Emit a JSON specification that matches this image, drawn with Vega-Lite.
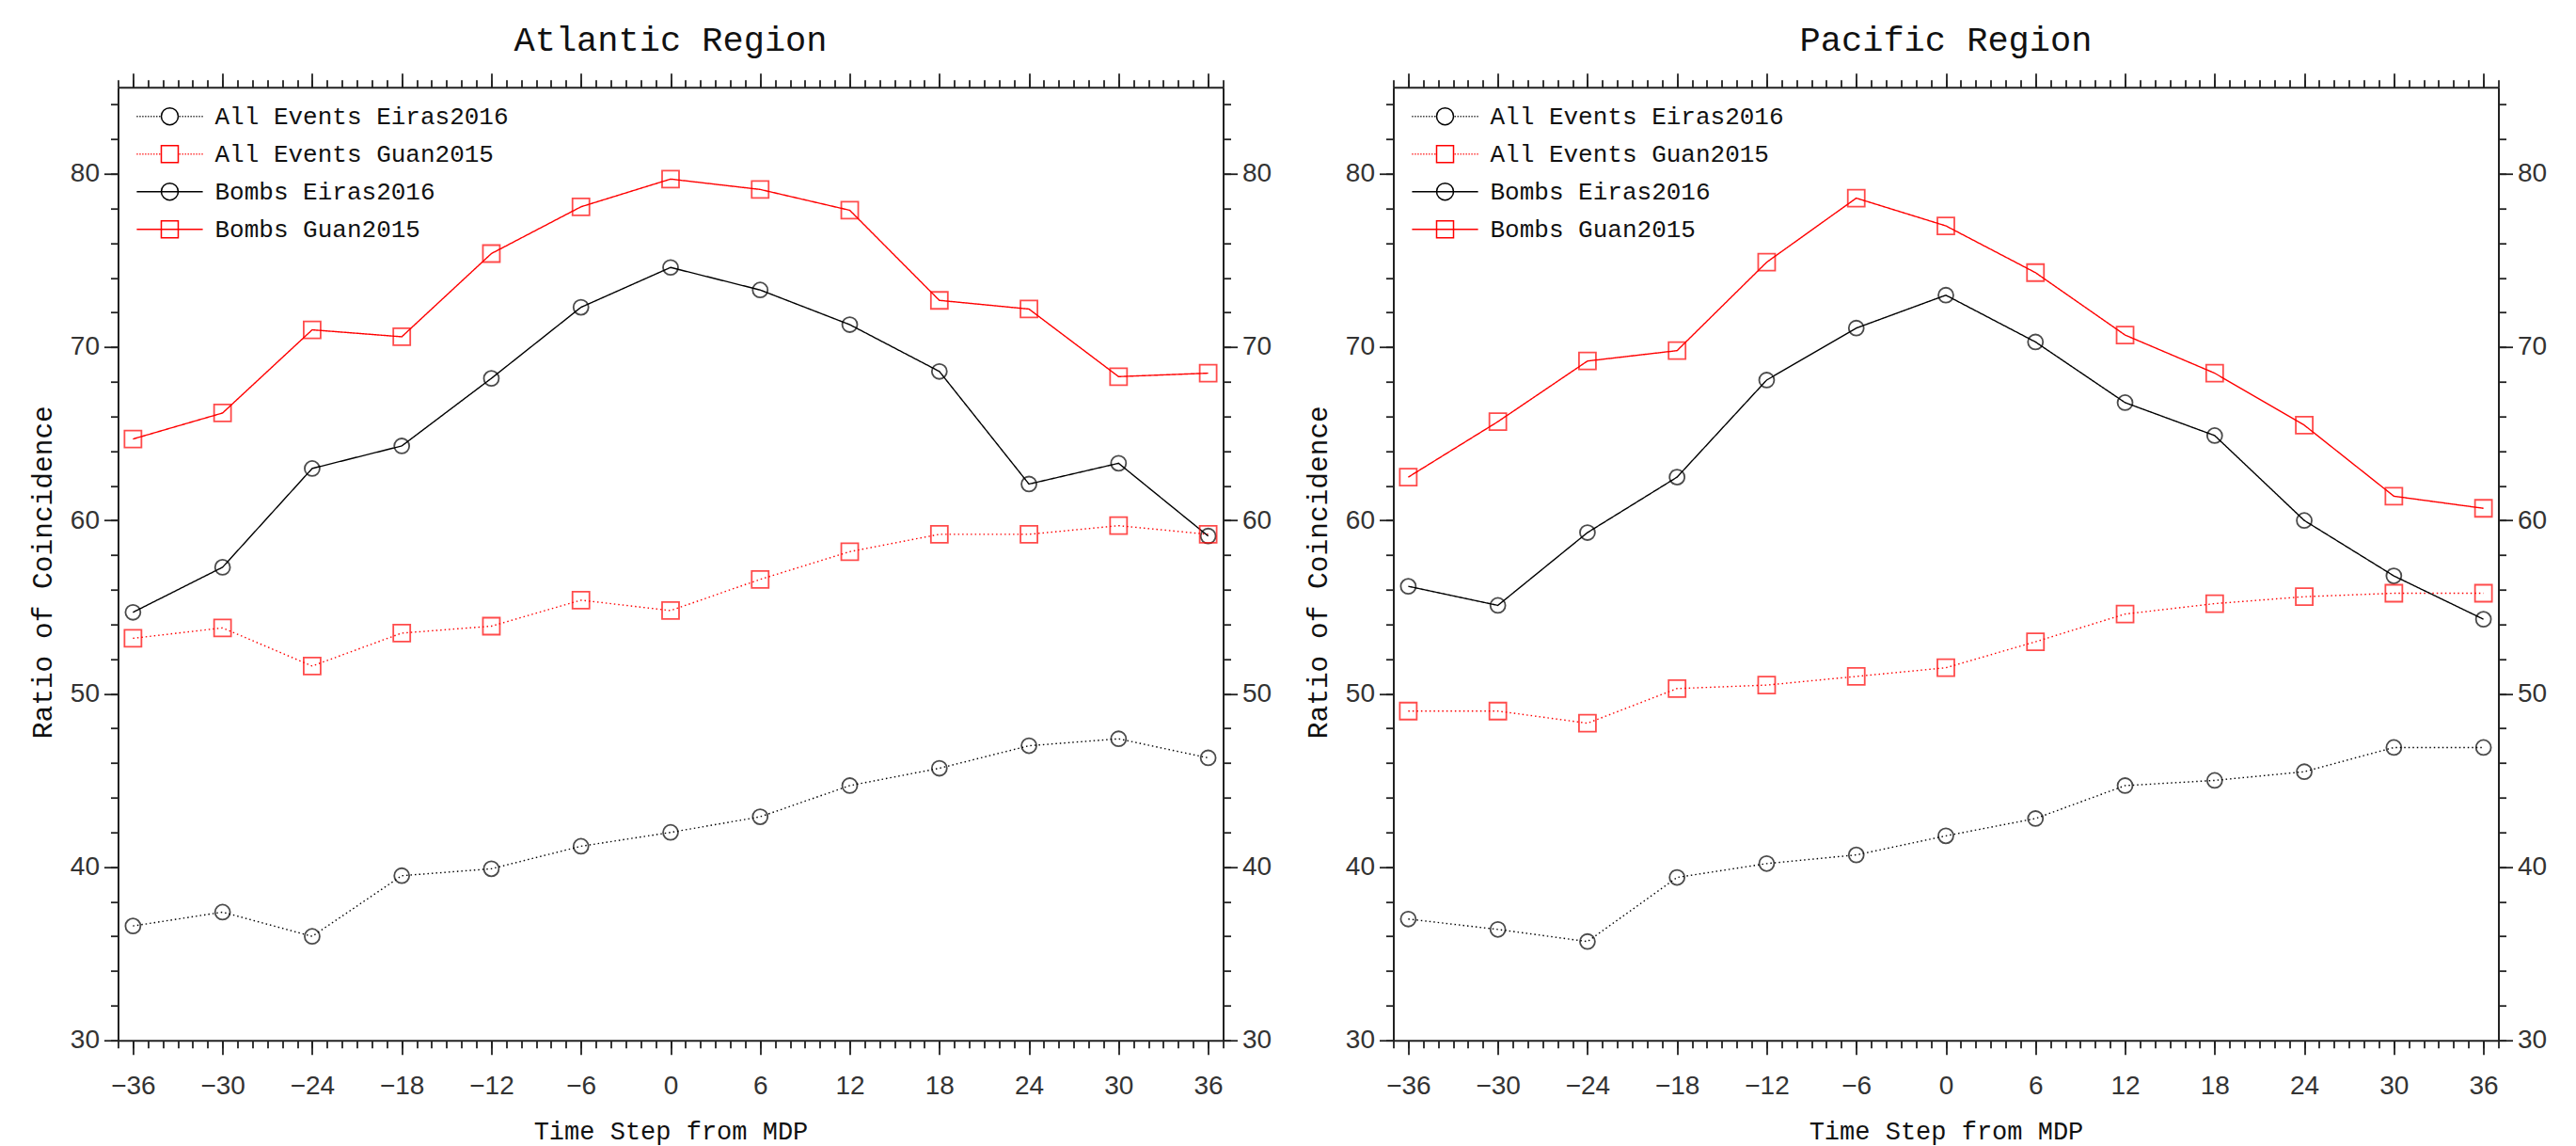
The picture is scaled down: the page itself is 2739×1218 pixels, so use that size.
{
  "$schema": "https://vega.github.io/schema/vega-lite/v6.json",
  "autosize": {"type": "none"},
  "padding": {"left": 125.5, "top": 92.7, "right": 2613.5, "bottom": 1125.3},
  "background": "white",
  "data": {"values": [
    {"region":"Atlantic","series":"All Events Eiras2016","t":-36,"value":36.6},
    {"region":"Atlantic","series":"All Events Eiras2016","t":-30,"value":37.4},
    {"region":"Atlantic","series":"All Events Eiras2016","t":-24,"value":36.0},
    {"region":"Atlantic","series":"All Events Eiras2016","t":-18,"value":39.5},
    {"region":"Atlantic","series":"All Events Eiras2016","t":-12,"value":39.9},
    {"region":"Atlantic","series":"All Events Eiras2016","t":-6,"value":41.2},
    {"region":"Atlantic","series":"All Events Eiras2016","t":0,"value":42.0},
    {"region":"Atlantic","series":"All Events Eiras2016","t":6,"value":42.9},
    {"region":"Atlantic","series":"All Events Eiras2016","t":12,"value":44.7},
    {"region":"Atlantic","series":"All Events Eiras2016","t":18,"value":45.7},
    {"region":"Atlantic","series":"All Events Eiras2016","t":24,"value":47.0},
    {"region":"Atlantic","series":"All Events Eiras2016","t":30,"value":47.4},
    {"region":"Atlantic","series":"All Events Eiras2016","t":36,"value":46.3},
    {"region":"Atlantic","series":"All Events Guan2015","t":-36,"value":53.2},
    {"region":"Atlantic","series":"All Events Guan2015","t":-30,"value":53.8},
    {"region":"Atlantic","series":"All Events Guan2015","t":-24,"value":51.6},
    {"region":"Atlantic","series":"All Events Guan2015","t":-18,"value":53.5},
    {"region":"Atlantic","series":"All Events Guan2015","t":-12,"value":53.9},
    {"region":"Atlantic","series":"All Events Guan2015","t":-6,"value":55.4},
    {"region":"Atlantic","series":"All Events Guan2015","t":0,"value":54.8},
    {"region":"Atlantic","series":"All Events Guan2015","t":6,"value":56.6},
    {"region":"Atlantic","series":"All Events Guan2015","t":12,"value":58.2},
    {"region":"Atlantic","series":"All Events Guan2015","t":18,"value":59.2},
    {"region":"Atlantic","series":"All Events Guan2015","t":24,"value":59.2},
    {"region":"Atlantic","series":"All Events Guan2015","t":30,"value":59.7},
    {"region":"Atlantic","series":"All Events Guan2015","t":36,"value":59.2},
    {"region":"Atlantic","series":"Bombs Eiras2016","t":-36,"value":54.7},
    {"region":"Atlantic","series":"Bombs Eiras2016","t":-30,"value":57.3},
    {"region":"Atlantic","series":"Bombs Eiras2016","t":-24,"value":63.0},
    {"region":"Atlantic","series":"Bombs Eiras2016","t":-18,"value":64.3},
    {"region":"Atlantic","series":"Bombs Eiras2016","t":-12,"value":68.2},
    {"region":"Atlantic","series":"Bombs Eiras2016","t":-6,"value":72.3},
    {"region":"Atlantic","series":"Bombs Eiras2016","t":0,"value":74.6},
    {"region":"Atlantic","series":"Bombs Eiras2016","t":6,"value":73.3},
    {"region":"Atlantic","series":"Bombs Eiras2016","t":12,"value":71.3},
    {"region":"Atlantic","series":"Bombs Eiras2016","t":18,"value":68.6},
    {"region":"Atlantic","series":"Bombs Eiras2016","t":24,"value":62.1},
    {"region":"Atlantic","series":"Bombs Eiras2016","t":30,"value":63.3},
    {"region":"Atlantic","series":"Bombs Eiras2016","t":36,"value":59.1},
    {"region":"Atlantic","series":"Bombs Guan2015","t":-36,"value":64.7},
    {"region":"Atlantic","series":"Bombs Guan2015","t":-30,"value":66.2},
    {"region":"Atlantic","series":"Bombs Guan2015","t":-24,"value":71.0},
    {"region":"Atlantic","series":"Bombs Guan2015","t":-18,"value":70.6},
    {"region":"Atlantic","series":"Bombs Guan2015","t":-12,"value":75.4},
    {"region":"Atlantic","series":"Bombs Guan2015","t":-6,"value":78.1},
    {"region":"Atlantic","series":"Bombs Guan2015","t":0,"value":79.7},
    {"region":"Atlantic","series":"Bombs Guan2015","t":6,"value":79.1},
    {"region":"Atlantic","series":"Bombs Guan2015","t":12,"value":77.9},
    {"region":"Atlantic","series":"Bombs Guan2015","t":18,"value":72.7},
    {"region":"Atlantic","series":"Bombs Guan2015","t":24,"value":72.2},
    {"region":"Atlantic","series":"Bombs Guan2015","t":30,"value":68.3},
    {"region":"Atlantic","series":"Bombs Guan2015","t":36,"value":68.5},
    {"region":"Pacific","series":"All Events Eiras2016","t":-36,"value":37.0},
    {"region":"Pacific","series":"All Events Eiras2016","t":-30,"value":36.4},
    {"region":"Pacific","series":"All Events Eiras2016","t":-24,"value":35.7},
    {"region":"Pacific","series":"All Events Eiras2016","t":-18,"value":39.4},
    {"region":"Pacific","series":"All Events Eiras2016","t":-12,"value":40.2},
    {"region":"Pacific","series":"All Events Eiras2016","t":-6,"value":40.7},
    {"region":"Pacific","series":"All Events Eiras2016","t":0,"value":41.8},
    {"region":"Pacific","series":"All Events Eiras2016","t":6,"value":42.8},
    {"region":"Pacific","series":"All Events Eiras2016","t":12,"value":44.7},
    {"region":"Pacific","series":"All Events Eiras2016","t":18,"value":45.0},
    {"region":"Pacific","series":"All Events Eiras2016","t":24,"value":45.5},
    {"region":"Pacific","series":"All Events Eiras2016","t":30,"value":46.9},
    {"region":"Pacific","series":"All Events Eiras2016","t":36,"value":46.9},
    {"region":"Pacific","series":"All Events Guan2015","t":-36,"value":49.0},
    {"region":"Pacific","series":"All Events Guan2015","t":-30,"value":49.0},
    {"region":"Pacific","series":"All Events Guan2015","t":-24,"value":48.3},
    {"region":"Pacific","series":"All Events Guan2015","t":-18,"value":50.3},
    {"region":"Pacific","series":"All Events Guan2015","t":-12,"value":50.5},
    {"region":"Pacific","series":"All Events Guan2015","t":-6,"value":51.0},
    {"region":"Pacific","series":"All Events Guan2015","t":0,"value":51.5},
    {"region":"Pacific","series":"All Events Guan2015","t":6,"value":53.0},
    {"region":"Pacific","series":"All Events Guan2015","t":12,"value":54.6},
    {"region":"Pacific","series":"All Events Guan2015","t":18,"value":55.2},
    {"region":"Pacific","series":"All Events Guan2015","t":24,"value":55.6},
    {"region":"Pacific","series":"All Events Guan2015","t":30,"value":55.8},
    {"region":"Pacific","series":"All Events Guan2015","t":36,"value":55.8},
    {"region":"Pacific","series":"Bombs Eiras2016","t":-36,"value":56.2},
    {"region":"Pacific","series":"Bombs Eiras2016","t":-30,"value":55.1},
    {"region":"Pacific","series":"Bombs Eiras2016","t":-24,"value":59.3},
    {"region":"Pacific","series":"Bombs Eiras2016","t":-18,"value":62.5},
    {"region":"Pacific","series":"Bombs Eiras2016","t":-12,"value":68.1},
    {"region":"Pacific","series":"Bombs Eiras2016","t":-6,"value":71.1},
    {"region":"Pacific","series":"Bombs Eiras2016","t":0,"value":73.0},
    {"region":"Pacific","series":"Bombs Eiras2016","t":6,"value":70.3},
    {"region":"Pacific","series":"Bombs Eiras2016","t":12,"value":66.8},
    {"region":"Pacific","series":"Bombs Eiras2016","t":18,"value":64.9},
    {"region":"Pacific","series":"Bombs Eiras2016","t":24,"value":60.0},
    {"region":"Pacific","series":"Bombs Eiras2016","t":30,"value":56.8},
    {"region":"Pacific","series":"Bombs Eiras2016","t":36,"value":54.3},
    {"region":"Pacific","series":"Bombs Guan2015","t":-36,"value":62.5},
    {"region":"Pacific","series":"Bombs Guan2015","t":-30,"value":65.7},
    {"region":"Pacific","series":"Bombs Guan2015","t":-24,"value":69.2},
    {"region":"Pacific","series":"Bombs Guan2015","t":-18,"value":69.8},
    {"region":"Pacific","series":"Bombs Guan2015","t":-12,"value":74.9},
    {"region":"Pacific","series":"Bombs Guan2015","t":-6,"value":78.6},
    {"region":"Pacific","series":"Bombs Guan2015","t":0,"value":77.0},
    {"region":"Pacific","series":"Bombs Guan2015","t":6,"value":74.3},
    {"region":"Pacific","series":"Bombs Guan2015","t":12,"value":70.7},
    {"region":"Pacific","series":"Bombs Guan2015","t":18,"value":68.5},
    {"region":"Pacific","series":"Bombs Guan2015","t":24,"value":65.5},
    {"region":"Pacific","series":"Bombs Guan2015","t":30,"value":61.4},
    {"region":"Pacific","series":"Bombs Guan2015","t":36,"value":60.7}
  ]},
  "spacing": 181,
  "bounds": "flush",
  "resolve": {"legend": {"color": "independent", "shape": "independent"}},
  "hconcat": [
    {
      "width": 1175, "height": 1013,
      "title": {"text": "Atlantic Region"},
      "transform": [{"filter": {"field": "region", "equal": "Atlantic"}}],
      "resolve": {"axis": {"x": "independent", "y": "independent"}},
      "layer": [
        {
          "mark": {"type": "line", "strokeWidth": 1.4},
          "encoding": {
            "x": {"field": "t", "type": "quantitative", "scale": {"domain": [-37, 37], "nice": false, "zero": false},
              "axis": {"orient": "bottom", "values": [-36,-30,-24,-18,-12,-6,0,6,12,18,24,30,36], "tickSize": 15, "labelPadding": 42, "labelBaseline": "alphabetic", "labelFlush": false, "domain": true,
                "title": "Time Step from MDP", "titleFont": "Liberation Mono", "titleFontSize": 27, "titleFontWeight": "normal", "titleBaseline": "alphabetic", "titleX": 587.5, "titleY": 105, "titleAlign": "center"}},
            "y": {"field": "value", "type": "quantitative", "scale": {"domain": [30, 85], "nice": false, "zero": false},
              "axis": {"orient": "left", "values": [30,40,50,60,70,80], "tickSize": 15, "labelPadding": 5, "domain": true,
                "title": "Ratio of Coincidence", "titleFont": "Liberation Mono", "titleFontSize": 29.5, "titleFontWeight": "normal", "titleAngle": 270, "titleBaseline": "alphabetic", "titleX": -71, "titleY": 515, "titleAlign": "center"}},
            "stroke": {"field": "series", "type": "nominal", "scale": {"domain": ["All Events Eiras2016","All Events Guan2015","Bombs Eiras2016","Bombs Guan2015"], "range": ["#000000","#ff0000","#000000","#ff0000"]}, "legend": null},
            "strokeDash": {"field": "series", "type": "nominal", "scale": {"domain": ["All Events Eiras2016","All Events Guan2015","Bombs Eiras2016","Bombs Guan2015"], "range": [[1.5,3],[1.5,3],[1,0],[1,0]]}, "legend": null}
          }
        },
        {
          "transform": [{"filter": {"field": "series", "oneOf": ["All Events Eiras2016", "Bombs Eiras2016"]}}],
          "mark": {"type": "point", "shape": "circle", "filled": false, "size": 254, "strokeWidth": 1.8, "color": "#000000"},
          "encoding": {
            "x": {"field": "t", "type": "quantitative", "scale": {"domain": [-37, 37], "nice": false, "zero": false},
              "axis": {"orient": "bottom", "values": [-37,-36,-35,-34,-33,-32,-31,-30,-29,-28,-27,-26,-25,-24,-23,-22,-21,-20,-19,-18,-17,-16,-15,-14,-13,-12,-11,-10,-9,-8,-7,-6,-5,-4,-3,-2,-1,0,1,2,3,4,5,6,7,8,9,10,11,12,13,14,15,16,17,18,19,20,21,22,23,24,25,26,27,28,29,30,31,32,33,34,35,36,37], "tickSize": 8, "labels": false, "domain": false, "title": null}},
            "y": {"field": "value", "type": "quantitative", "scale": {"domain": [30, 85], "nice": false, "zero": false},
              "axis": {"orient": "left", "values": [30,32,34,36,38,40,42,44,46,48,50,52,54,56,58,60,62,64,66,68,70,72,74,76,78,80,82,84], "tickSize": 8, "labels": false, "domain": false, "title": null}}
          }
        },
        {
          "transform": [{"filter": {"field": "series", "oneOf": ["All Events Guan2015", "Bombs Guan2015"]}}],
          "mark": {"type": "point", "shape": "square", "filled": false, "size": 324, "strokeWidth": 1.8, "color": "#ff0000"},
          "encoding": {
            "x": {"field": "t", "type": "quantitative", "scale": {"domain": [-37, 37], "nice": false, "zero": false},
              "axis": {"orient": "top", "values": [-36,-30,-24,-18,-12,-6,0,6,12,18,24,30,36], "tickSize": 15, "labels": false, "domain": true, "title": null}},
            "y": {"field": "value", "type": "quantitative", "scale": {"domain": [30, 85], "nice": false, "zero": false},
              "axis": {"orient": "right", "values": [30,40,50,60,70,80], "tickSize": 15, "labelPadding": 5, "domain": true, "title": null}}
          }
        },
        {
          "mark": {"type": "point", "filled": false, "size": 324, "strokeWidth": 1.5, "opacity": 0},
          "encoding": {
            "x": {"field": "t", "type": "quantitative", "scale": {"domain": [-37, 37], "nice": false, "zero": false},
              "axis": {"orient": "top", "values": [-37,-36,-35,-34,-33,-32,-31,-30,-29,-28,-27,-26,-25,-24,-23,-22,-21,-20,-19,-18,-17,-16,-15,-14,-13,-12,-11,-10,-9,-8,-7,-6,-5,-4,-3,-2,-1,0,1,2,3,4,5,6,7,8,9,10,11,12,13,14,15,16,17,18,19,20,21,22,23,24,25,26,27,28,29,30,31,32,33,34,35,36,37], "tickSize": 8, "labels": false, "domain": false, "title": null}},
            "y": {"field": "value", "type": "quantitative", "scale": {"domain": [30, 85], "nice": false, "zero": false},
              "axis": {"orient": "right", "values": [30,32,34,36,38,40,42,44,46,48,50,52,54,56,58,60,62,64,66,68,70,72,74,76,78,80,82,84], "tickSize": 8, "labels": false, "domain": false, "title": null}},
            "color": {"field": "series", "type": "nominal", "scale": {"domain": ["All Events Eiras2016","All Events Guan2015","Bombs Eiras2016","Bombs Guan2015"], "range": ["#000000","#ff0000","#000000","#ff0000"]},
              "legend": {"encode": {"symbols": {"update": {"opacity": {"value": 1}, "strokeOpacity": {"value": 1}}}}}},
            "shape": {"field": "series", "type": "nominal", "scale": {"domain": ["All Events Eiras2016","All Events Guan2015","Bombs Eiras2016","Bombs Guan2015"],
              "range": [
                "M-3.9,0h0.13M-3.57,0h0.13M-3.24,0h0.13M-2.91,0h0.13M-2.58,0h0.13M-2.25,0h0.13M-1.92,0h0.13M-1.59,0h0.13M-1.26,0h0.13M1.13,0h0.13M1.46,0h0.13M1.79,0h0.13M2.12,0h0.13M2.45,0h0.13M2.78,0h0.13M3.11,0h0.13M3.44,0h0.13M3.77,0h0.13M1,0A1,1,0,1,1,-1,0A1,1,0,1,1,1,0Z",
                "M-3.9,0h0.13M-3.57,0h0.13M-3.24,0h0.13M-2.91,0h0.13M-2.58,0h0.13M-2.25,0h0.13M-1.92,0h0.13M-1.59,0h0.13M-1.26,0h0.13M1.13,0h0.13M1.46,0h0.13M1.79,0h0.13M2.12,0h0.13M2.45,0h0.13M2.78,0h0.13M3.11,0h0.13M3.44,0h0.13M3.77,0h0.13M-1,-1H1V1H-1Z",
                "M-3.9,0H3.9M1,0A1,1,0,1,1,-1,0A1,1,0,1,1,1,0Z",
                "M-3.9,0H3.9M-1,-1H1V1H-1Z"]},
              "legend": {"encode": {"symbols": {"update": {"opacity": {"value": 1}, "strokeOpacity": {"value": 1}}}}}}
          }
        }
      ]
    },
    {
      "width": 1175, "height": 1013,
      "title": {"text": "Pacific Region"},
      "transform": [{"filter": {"field": "region", "equal": "Pacific"}}],
      "resolve": {"axis": {"x": "independent", "y": "independent"}},
      "layer": [
        {
          "mark": {"type": "line", "strokeWidth": 1.4},
          "encoding": {
            "x": {"field": "t", "type": "quantitative", "scale": {"domain": [-37, 37], "nice": false, "zero": false},
              "axis": {"orient": "bottom", "values": [-36,-30,-24,-18,-12,-6,0,6,12,18,24,30,36], "tickSize": 15, "labelPadding": 42, "labelBaseline": "alphabetic", "labelFlush": false, "domain": true,
                "title": "Time Step from MDP", "titleFont": "Liberation Mono", "titleFontSize": 27, "titleFontWeight": "normal", "titleBaseline": "alphabetic", "titleX": 587.5, "titleY": 105, "titleAlign": "center"}},
            "y": {"field": "value", "type": "quantitative", "scale": {"domain": [30, 85], "nice": false, "zero": false},
              "axis": {"orient": "left", "values": [30,40,50,60,70,80], "tickSize": 15, "labelPadding": 5, "domain": true,
                "title": "Ratio of Coincidence", "titleFont": "Liberation Mono", "titleFontSize": 29.5, "titleFontWeight": "normal", "titleAngle": 270, "titleBaseline": "alphabetic", "titleX": -71, "titleY": 515, "titleAlign": "center"}},
            "stroke": {"field": "series", "type": "nominal", "scale": {"domain": ["All Events Eiras2016","All Events Guan2015","Bombs Eiras2016","Bombs Guan2015"], "range": ["#000000","#ff0000","#000000","#ff0000"]}, "legend": null},
            "strokeDash": {"field": "series", "type": "nominal", "scale": {"domain": ["All Events Eiras2016","All Events Guan2015","Bombs Eiras2016","Bombs Guan2015"], "range": [[1.5,3],[1.5,3],[1,0],[1,0]]}, "legend": null}
          }
        },
        {
          "transform": [{"filter": {"field": "series", "oneOf": ["All Events Eiras2016", "Bombs Eiras2016"]}}],
          "mark": {"type": "point", "shape": "circle", "filled": false, "size": 254, "strokeWidth": 1.8, "color": "#000000"},
          "encoding": {
            "x": {"field": "t", "type": "quantitative", "scale": {"domain": [-37, 37], "nice": false, "zero": false},
              "axis": {"orient": "bottom", "values": [-37,-36,-35,-34,-33,-32,-31,-30,-29,-28,-27,-26,-25,-24,-23,-22,-21,-20,-19,-18,-17,-16,-15,-14,-13,-12,-11,-10,-9,-8,-7,-6,-5,-4,-3,-2,-1,0,1,2,3,4,5,6,7,8,9,10,11,12,13,14,15,16,17,18,19,20,21,22,23,24,25,26,27,28,29,30,31,32,33,34,35,36,37], "tickSize": 8, "labels": false, "domain": false, "title": null}},
            "y": {"field": "value", "type": "quantitative", "scale": {"domain": [30, 85], "nice": false, "zero": false},
              "axis": {"orient": "left", "values": [30,32,34,36,38,40,42,44,46,48,50,52,54,56,58,60,62,64,66,68,70,72,74,76,78,80,82,84], "tickSize": 8, "labels": false, "domain": false, "title": null}}
          }
        },
        {
          "transform": [{"filter": {"field": "series", "oneOf": ["All Events Guan2015", "Bombs Guan2015"]}}],
          "mark": {"type": "point", "shape": "square", "filled": false, "size": 324, "strokeWidth": 1.8, "color": "#ff0000"},
          "encoding": {
            "x": {"field": "t", "type": "quantitative", "scale": {"domain": [-37, 37], "nice": false, "zero": false},
              "axis": {"orient": "top", "values": [-36,-30,-24,-18,-12,-6,0,6,12,18,24,30,36], "tickSize": 15, "labels": false, "domain": true, "title": null}},
            "y": {"field": "value", "type": "quantitative", "scale": {"domain": [30, 85], "nice": false, "zero": false},
              "axis": {"orient": "right", "values": [30,40,50,60,70,80], "tickSize": 15, "labelPadding": 5, "domain": true, "title": null}}
          }
        },
        {
          "mark": {"type": "point", "filled": false, "size": 324, "strokeWidth": 1.5, "opacity": 0},
          "encoding": {
            "x": {"field": "t", "type": "quantitative", "scale": {"domain": [-37, 37], "nice": false, "zero": false},
              "axis": {"orient": "top", "values": [-37,-36,-35,-34,-33,-32,-31,-30,-29,-28,-27,-26,-25,-24,-23,-22,-21,-20,-19,-18,-17,-16,-15,-14,-13,-12,-11,-10,-9,-8,-7,-6,-5,-4,-3,-2,-1,0,1,2,3,4,5,6,7,8,9,10,11,12,13,14,15,16,17,18,19,20,21,22,23,24,25,26,27,28,29,30,31,32,33,34,35,36,37], "tickSize": 8, "labels": false, "domain": false, "title": null}},
            "y": {"field": "value", "type": "quantitative", "scale": {"domain": [30, 85], "nice": false, "zero": false},
              "axis": {"orient": "right", "values": [30,32,34,36,38,40,42,44,46,48,50,52,54,56,58,60,62,64,66,68,70,72,74,76,78,80,82,84], "tickSize": 8, "labels": false, "domain": false, "title": null}},
            "color": {"field": "series", "type": "nominal", "scale": {"domain": ["All Events Eiras2016","All Events Guan2015","Bombs Eiras2016","Bombs Guan2015"], "range": ["#000000","#ff0000","#000000","#ff0000"]},
              "legend": {"encode": {"symbols": {"update": {"opacity": {"value": 1}, "strokeOpacity": {"value": 1}}}}}},
            "shape": {"field": "series", "type": "nominal", "scale": {"domain": ["All Events Eiras2016","All Events Guan2015","Bombs Eiras2016","Bombs Guan2015"],
              "range": [
                "M-3.9,0h0.13M-3.57,0h0.13M-3.24,0h0.13M-2.91,0h0.13M-2.58,0h0.13M-2.25,0h0.13M-1.92,0h0.13M-1.59,0h0.13M-1.26,0h0.13M1.13,0h0.13M1.46,0h0.13M1.79,0h0.13M2.12,0h0.13M2.45,0h0.13M2.78,0h0.13M3.11,0h0.13M3.44,0h0.13M3.77,0h0.13M1,0A1,1,0,1,1,-1,0A1,1,0,1,1,1,0Z",
                "M-3.9,0h0.13M-3.57,0h0.13M-3.24,0h0.13M-2.91,0h0.13M-2.58,0h0.13M-2.25,0h0.13M-1.92,0h0.13M-1.59,0h0.13M-1.26,0h0.13M1.13,0h0.13M1.46,0h0.13M1.79,0h0.13M2.12,0h0.13M2.45,0h0.13M2.78,0h0.13M3.11,0h0.13M3.44,0h0.13M3.77,0h0.13M-1,-1H1V1H-1Z",
                "M-3.9,0H3.9M1,0A1,1,0,1,1,-1,0A1,1,0,1,1,1,0Z",
                "M-3.9,0H3.9M-1,-1H1V1H-1Z"]},
              "legend": {"encode": {"symbols": {"update": {"opacity": {"value": 1}, "strokeOpacity": {"value": 1}}}}}}
          }
        }
      ]
    }
  ],
  "config": {
    "view": {"stroke": null},
    "axis": {"grid": false, "domainColor": "#222222", "domainWidth": 2, "tickColor": "#222222", "tickWidth": 1.8, "labelFont": "Liberation Sans", "labelFontSize": 28, "labelColor": "#333333", "titleColor": "#111111"},
    "title": {"font": "Liberation Mono", "fontSize": 37, "fontWeight": "normal", "color": "#111111", "anchor": "middle", "baseline": "alphabetic", "offset": 15, "frame": "group"},
    "legend": {"orient": "none", "legendX": 42, "legendY": 18, "title": null, "padding": 0, "labelFont": "Liberation Mono", "labelFontSize": 26, "labelColor": "#111111", "labelOffset": 35, "labelLimit": 0, "rowPadding": 14, "symbolSize": 324, "symbolStrokeWidth": 1.5}
  }
}
